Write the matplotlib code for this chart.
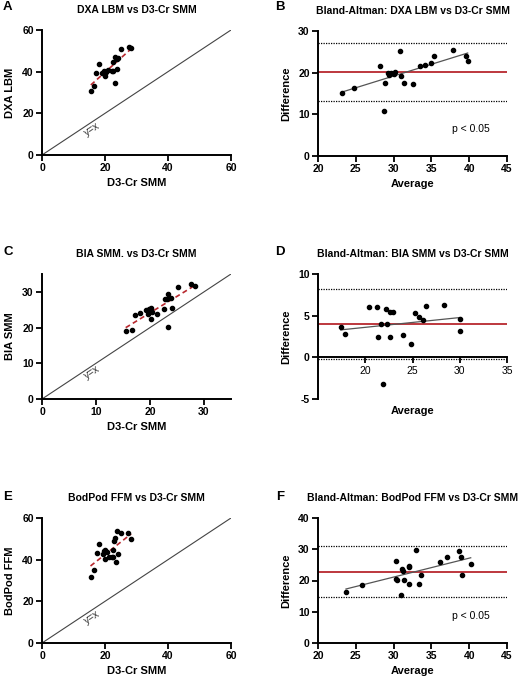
import numpy as np
import matplotlib
matplotlib.use("Agg")
import matplotlib.pyplot as plt

plt.rcParams['font.family'] = ['Liberation Sans', 'DejaVu Sans']
plt.rcParams['font.size'] = 7.5
plt.rcParams['axes.unicode_minus'] = False

# ---- data ----
# A: DXA LBM vs D3-Cr SMM
a_d3 = [15.5, 16.6, 17.3, 18.2, 19.1, 19.6, 19.8, 20.1, 20.3, 21.0, 22.1,
        22.6, 22.6, 23.1, 23.3, 23.7, 23.9, 24.2, 25.0, 27.6, 28.3]
a_dxa = [30.9, 33.1, 39.2, 43.7, 39.5, 40.5, 39.3, 37.9, 40.0, 40.8, 40.5,
         40.3, 44.8, 47.2, 34.4, 45.9, 41.4, 46.4, 50.9, 51.7, 51.4]

# B: Bland-Altman DXA
b_avg = [23.2, 24.8, 28.2, 28.7, 28.9, 29.2, 29.4, 29.7, 30.0, 30.2, 30.8,
         31.0, 31.4, 32.6, 33.5, 34.2, 34.9, 35.3, 37.8, 39.6, 39.8]
b_diff = [15.2, 16.4, 21.7, 10.7, 17.6, 19.8, 19.4, 19.8, 19.7, 20.1, 25.3,
          19.3, 17.5, 17.2, 21.7, 21.9, 22.3, 23.9, 25.5, 23.9, 22.9]
b_bias, b_lo, b_hi = 20.1, 13.1, 27.0

# C: BIA SMM vs D3-Cr SMM
c_d3 = [15.5, 16.6, 17.3, 18.2, 19.2, 19.7, 19.9, 20.1, 20.1, 20.3, 21.3,
        22.5, 22.7, 23.2, 23.3, 23.4, 23.8, 24.0, 25.1, 27.6, 28.3]
c_bia = [19.1, 19.3, 23.5, 24.2, 25.0, 23.7, 25.2, 22.5, 25.4, 24.3, 23.7,
         25.3, 27.9, 28.1, 29.5, 20.3, 28.4, 25.6, 31.5, 32.2, 31.6]

# D: Bland-Altman BIA
d_avg = [17.4, 17.9, 20.4, 21.2, 21.4, 21.7, 21.9, 22.15, 22.3, 22.6, 22.6,
         22.9, 24.0, 24.8, 25.3, 25.7, 26.1, 26.4, 28.3, 30.0, 30.0]
d_diff = [3.6, 2.8, 6.1, 6.1, 2.5, 4.0, -3.2, 5.8, 4.0, 2.4, 5.5,
          5.5, 2.7, 1.6, 5.3, 4.9, 4.5, 6.2, 6.3, 4.6, 3.2]
d_bias, d_lo, d_hi = 4.0, -0.15, 8.2

# E: BodPod FFM vs D3-Cr SMM
e_d3 = [15.4, 16.5, 17.4, 18.2, 19.3, 19.7, 20.0, 20.1, 20.5, 21.4, 22.1,
        22.4, 22.6, 23.0, 23.2, 23.4, 23.7, 24.0, 25.0, 27.4, 28.3]
e_ffm = [31.7, 34.9, 43.4, 47.5, 42.7, 44.0, 44.7, 40.5, 43.7, 41.5, 41.5,
         44.7, 41.3, 49.2, 50.6, 38.8, 53.6, 42.6, 52.6, 52.6, 49.8]

# F: Bland-Altman BodPod
f_avg = [23.7, 25.8, 30.3, 30.3, 30.4, 31.0, 31.1, 31.3, 31.4, 32.0, 32.0,
         32.1, 32.9, 33.4, 33.6, 36.2, 37.1, 38.6, 38.9, 39.1, 40.2]
f_diff = [16.3, 18.6, 26.3, 20.4, 20.1, 15.4, 23.7, 23.2, 20.2, 18.8, 24.4,
          24.6, 29.7, 18.8, 21.9, 26.0, 27.6, 29.6, 27.6, 21.7, 25.3]
f_bias, f_lo, f_hi = 22.8, 14.8, 30.9

RED = '#b8282e'
W, H = 518, 680


def make_ax(fig, left, top):
    # pixel box -> figure fraction
    return fig.add_axes([left / W, 1 - (top + 125) / H, 189 / W, 125 / H])


def style(ax):
    for s in ['top', 'right']:
        ax.spines[s].set_visible(False)
    for s in ['left', 'bottom']:
        ax.spines[s].set_linewidth(1.4)
    ax.tick_params(width=1.3, length=4, labelsize=7.5, pad=2)
    for lab in ax.get_xticklabels() + ax.get_yticklabels():
        lab.set_fontweight('bold')


def fit_line(ax, x, y, **kw):
    m, c = np.polyfit(x, y, 1)
    xs = np.array([min(x), max(x)])
    ax.plot(xs, m * xs + c, **kw)


def scatter_panel(ax, x, y, lim, ticks, ylabel, title, yx_pos):
    ax.axline((0, 0), slope=1, color='#444444', lw=0.8)
    fit_line(ax, x, y, color=RED, lw=1.2, ls=(0, (3, 2)), zorder=3)
    ax.scatter(x, y, s=9, color='black', zorder=4)
    ax.set_xlim(0, lim)
    ax.set_ylim(0, lim)
    ax.set_xticks(ticks)
    ax.set_yticks(ticks)
    ax.text(yx_pos[0], yx_pos[1], 'y=x', rotation=45, transform_rotates_text=True,
            ha='center', va='center', rotation_mode='anchor', fontsize=7.5, color='#333333')
    ax.set_xlabel('D3-Cr SMM', fontweight='bold', fontsize=8, labelpad=3)
    ax.set_ylabel(ylabel, fontweight='bold', fontsize=8, labelpad=5)
    ax.set_title(title, fontweight='bold', fontsize=7.5, pad=12.5)
    style(ax)


def ba_panel(ax, x, y, bias, lo, hi, xlim, xticks, ylim, yticks, title):
    ax.axhline(hi, color='black', lw=0.9, ls=(0, (1, 1)))
    ax.axhline(lo, color='black', lw=0.9, ls=(0, (1, 1)))
    ax.axhline(bias, color=RED, lw=1.3)
    fit_line(ax, x, y, color='#555555', lw=0.9, zorder=3)
    ax.scatter(x, y, s=9, color='black', zorder=4)
    ax.set_xlim(*xlim)
    ax.set_ylim(*ylim)
    ax.set_xticks(xticks)
    ax.set_yticks(yticks)
    ax.set_ylabel('Difference', fontweight='bold', fontsize=8, labelpad=5)
    ax.set_title(title, fontweight='bold', fontsize=7.5, pad=12.5)
    style(ax)


fig = plt.figure(figsize=(W / 100, H / 100), dpi=100)

axA = make_ax(fig, 42, 30)
scatter_panel(axA, a_d3, a_dxa, 60, [0, 20, 40, 60], 'DXA LBM',
              'DXA LBM vs D3-Cr SMM', (16.0, 12.5))

axB = make_ax(fig, 318, 31)
ba_panel(axB, b_avg, b_diff, b_bias, b_lo, b_hi, (20, 45), [20, 25, 30, 35, 40, 45],
         (0, 30), [0, 10, 20, 30], 'Bland-Altman: DXA LBM vs D3-Cr SMM')
axB.set_xlabel('Average', fontweight='bold', fontsize=8, labelpad=3)
axB.text(40.2, 6.6, 'p < 0.05', ha='center', va='center', fontsize=7.5)

axC = make_ax(fig, 42, 274)
scatter_panel(axC, c_d3, c_bia, 35, [0, 10, 20, 30], 'BIA SMM',
              'BIA SMM. vs D3-Cr SMM', (9.3, 7.4))

axD = make_ax(fig, 318, 274)
ba_panel(axD, d_avg, d_diff, d_bias, d_lo, d_hi, (15, 35), [20, 25, 30, 35],
         (-5, 10), [-5, 0, 5, 10], 'Bland-Altman: BIA SMM vs D3-Cr SMM')
axD.spines['bottom'].set_position(('data', 0))
axD.text(0.5, -0.1, 'Average', transform=axD.transAxes, ha='center', va='center',
         fontweight='bold', fontsize=8)

axE = make_ax(fig, 42, 518)
scatter_panel(axE, e_d3, e_ffm, 60, [0, 20, 40, 60], 'BodPod FFM',
              'BodPod FFM vs D3-Cr SMM', (16.0, 12.5))

axF = make_ax(fig, 318, 518)
ba_panel(axF, f_avg, f_diff, f_bias, f_lo, f_hi, (20, 45), [20, 25, 30, 35, 40, 45],
         (0, 40), [0, 10, 20, 30, 40], 'Bland-Altman: BodPod FFM vs D3-Cr SMM')
axF.set_xlabel('Average', fontweight='bold', fontsize=8, labelpad=3)
axF.text(40.2, 8.7, 'p < 0.05', ha='center', va='center', fontsize=7.5)

# panel letters
for letter, px, py in [('A', 7, 7), ('B', 280, 7), ('C', 8, 252),
                       ('D', 280, 252), ('E', 8, 497), ('F', 280, 497)]:
    fig.text(px / W, 1 - py / H, letter, ha='center', va='center',
             fontsize=9.5, fontweight='bold')

fig.savefig('out.png', dpi=100)
